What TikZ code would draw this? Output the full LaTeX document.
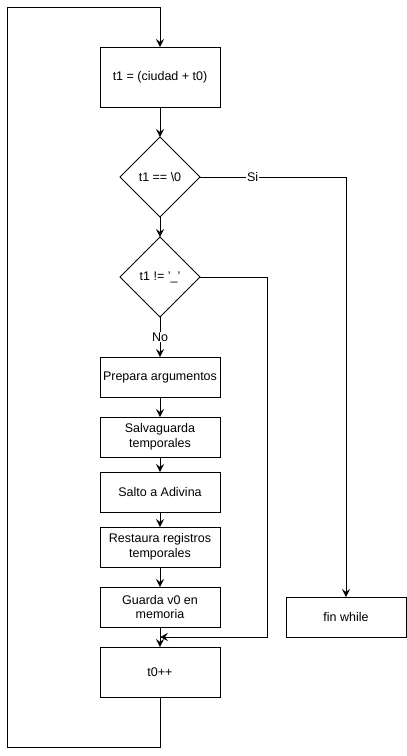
\documentclass[tikz,border=0pt]{standalone}
\usepackage{fontspec}
\setmainfont{Liberation Sans}
\usepackage{tikz}
\usetikzlibrary{arrows.meta,positioning,shapes.geometric}

\begin{document}
\begin{tikzpicture}[x=1pt, y=-1pt, line width=1pt, >={Stealth[length=8pt, width=8pt, inset=3pt]},
    every node/.style={draw, minimum width=120pt, minimum height=40pt, inner sep=2pt, outer sep=0pt, align=center, font=\fontsize{12.5}{14.5}\selectfont},
    dec/.style={shape=diamond, minimum width=80pt, minimum height=80pt, inner sep=0pt},
    lbl/.style={draw=none, fill=white, minimum width=0pt, minimum height=0pt, inner sep=1pt}]
      \useasboundingbox (0,0) rectangle (407,756);
      \node (asig) at (160,77) [minimum height=60pt] {t1 = (ciudad + t0)};
      \node (fin0) [dec, below=30pt of asig] {t1 == \textbackslash0};
      \node (guion) [dec, below=20pt of fin0] {t1 != '\_'};
      \node (prep) [below=40pt of guion] {Prepara argumentos};
      \node (salva) [below=20pt of prep] {Salvaguarda\\temporales};
      \node (salto) [below=15pt of salva] {Salto a Adivina};
      \node (rest) [below=15pt of salto] {Restaura registros\\temporales};
      \node (guarda) [below=20pt of rest] {Guarda v0 en\\memoria};
      \node (inc) [below=20pt of guarda, minimum height=50pt] {t0++};
      \node (finw) at (346,617) {fin while};
      \coordinate (junta) at (160,637);
      \draw[->] (asig) -- (fin0);
      \draw[->] (fin0) -- (guion);
      \draw[->] (guion) -- node[lbl]{No} (prep);
      \draw[->] (prep) -- (salva);
      \draw[->] (salva) -- (salto);
      \draw[->] (salto) -- (rest);
      \draw[->] (rest) -- (guarda);
      \draw[->] (guarda) -- (inc);
      \draw[->] (fin0.east) -| node[lbl, pos=0.18]{Si} (finw);
      \draw[->] (guion.east) -- ++(67,0) |- (junta);
      \draw[->] (inc.south) -- ++(0,50) -| ++(-153,-740) -| (asig);
    \end{tikzpicture}
\end{document}
